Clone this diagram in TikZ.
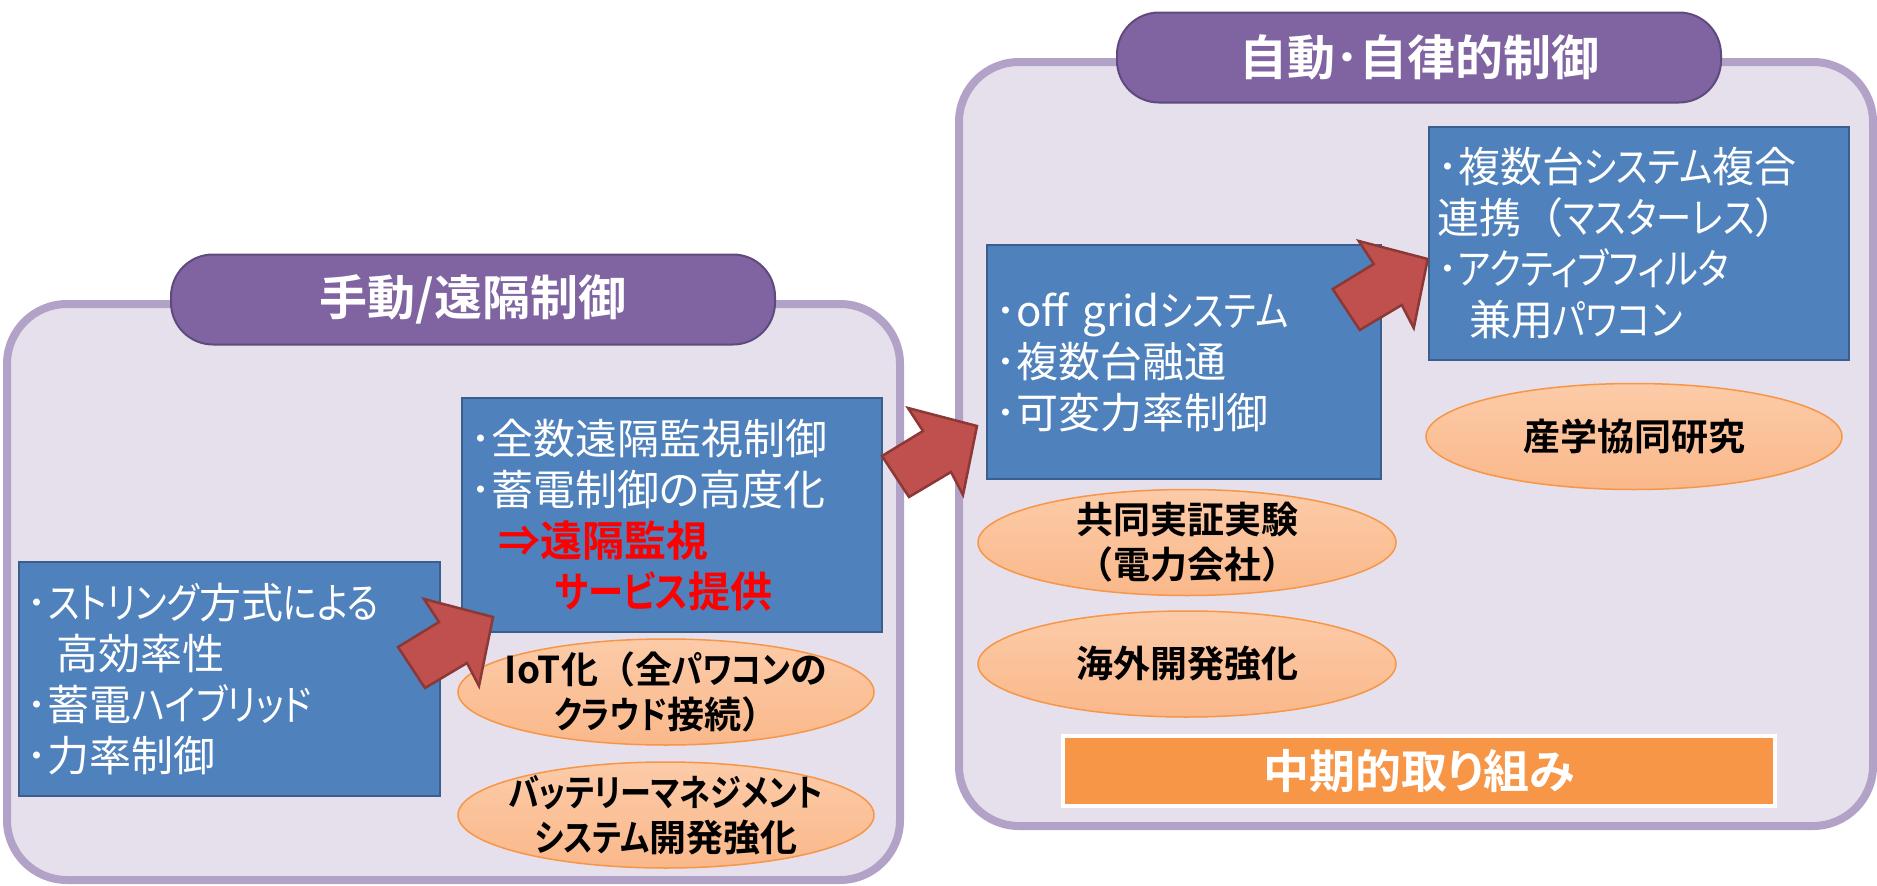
\documentclass[tikz,border=0pt]{standalone}
\usepackage{fontspec}
\usetikzlibrary{shapes.geometric,shadings}
\newfontfamily\jp[RawFeature=+palt,BoldFont={Noto Sans CJK JP Bold}]{Noto Sans CJK JP}
\newfontfamily\jpk[RawFeature=+palt,FakeStretch=0.84,BoldFont={Noto Sans CJK JP Bold}]{Noto Sans CJK JP}
\newfontfamily\jpf[BoldFont={Noto Sans CJK JP Bold}]{Noto Sans CJK JP}
\newcommand\kn[1]{{\jpk #1}}
\newcommand\fwl{{\jpf （}}
\newcommand\fwr{{\jpf ）}}
\definecolor{panelfill}{HTML}{E5E0EC}
\definecolor{panelline}{HTML}{B3A2C7}
\definecolor{tabfill}{HTML}{8064A2}
\definecolor{tabline}{HTML}{5F4A7E}
\definecolor{boxfill}{HTML}{4F81BD}
\definecolor{boxline}{HTML}{3A5F8C}
\definecolor{ovaltop}{HTML}{FCCBA8}
\definecolor{ovalbot}{HTML}{FAB88A}
\definecolor{ovalline}{HTML}{F79646}
\definecolor{arrowfill}{HTML}{C0504D}
\definecolor{arrowline}{HTML}{8C3836}
\definecolor{barfill}{HTML}{F79646}
\tikzset{
  panel/.style={draw=panelline, fill=panelfill, line width=8pt, rounded corners=60pt, inner sep=0pt},
  tab/.style={draw=tabline, fill=tabfill, line width=2pt, rounded corners=42pt,
    minimum width=604pt, minimum height=90pt, inner sep=0pt, text=white,
    font={\jp\bfseries\fontsize{48pt}{52pt}\selectfont}},
  bluebox/.style={draw=boxline, fill=boxfill, line width=2.5pt, inner xsep=8pt, inner ysep=0pt,
    align=left, text=white, font={\jp\fontsize{42pt}{51pt}\selectfont}},
  oval/.style={ellipse, draw=ovalline, line width=1.5pt, top color=ovaltop, bottom color=ovalbot,
    minimum width=416pt, minimum height=106pt, inner sep=0pt},
  ovaltext/.style={align=center, text=black, inner sep=0pt,
    font={\jp\bfseries\fontsize{37pt}{45pt}\selectfont}},
  bar/.style={draw=white, fill=barfill, line width=4pt, minimum width=712pt, minimum height=70pt,
    inner sep=0pt, text=white, font={\jp\bfseries\fontsize{46pt}{50pt}\selectfont}},
  blockarrow/.pic={\draw[draw=arrowline, fill=arrowfill, line width=2.5pt, line join=miter]
    (-95,30) -- (-68,71) -- (-26,46) -- (-14,69) -- (0,0) -- (-69,-18) -- (-54,5) -- cycle;}
}
\begin{document}
\begin{tikzpicture}[x=1pt,y=-1pt]
\useasboundingbox (0,0) rectangle (1877,886);
% panels
\node[panel, minimum width=893pt, minimum height=576pt] (leftpanel) at (453.5,592) {};
\node[panel, minimum width=914pt, minimum height=764pt] (rightpanel) at (1416,444) {};
% tabs
\node[tab] (lefttab) at (473,299.5) {手動/遠隔制御};
\node[tab] (righttab) at (1419,57.5) {自動･自律的制御};
% blue boxes
\node[bluebox, text width=405pt, minimum height=234pt] (boxA) at (229.5,679)
  {･\kn{ストリング}方式\kn{による}\\\hspace*{29pt}高効率性\\･蓄電\kn{ハイブリッド}\\･力率制御};
\node[bluebox, text width=404pt, minimum height=234pt] (boxB) at (672,515)
  {･全数遠隔監視制御\\･蓄電制御の高度化\\\hspace*{28pt}{\color{red}\bfseries ⇒遠隔監視}\\\hspace*{85pt}{\color{red}\bfseries \kn{サービス}提供}};
\node[bluebox, text width=378pt, minimum height=234pt] (boxC) at (1184,362)
  {･off grid\kn{システム}\\･複数台融通\\･可変力率制御};
\node[bluebox, text width=404pt, minimum height=233pt] (boxD) at (1639,243.5)
  {･複数台\kn{システム}複合\\連携\fwl\kn{マスターレス}\fwr\\･\kn{アクティブフィルタ}\\\hspace*{32pt}兼用\kn{パワコン}};
% ovals
\node[oval, label={[ovaltext]center:{IoT化\fwl 全\kn{パワコン}の\\\kn{クラウド}接続\fwr}}] (ovalA) at (666,692) {};
\node[oval, label={[ovaltext]center:{\kn{バッテリーマネジメント}\\\kn{システム}開発強化}}] (ovalB) at (666,815) {};
\node[oval, label={[ovaltext]center:{産学協同研究}}] (ovalC) at (1634,436.5) {};
\node[oval, minimum width=418pt, label={[ovaltext]center:{共同実証実験\\\fwl 電力会社\fwr}}] (ovalD) at (1187,542.5) {};
\node[oval, minimum width=418pt, label={[ovaltext]center:{海外開発強化}}] (ovalE) at (1187,664) {};
% bar
\node[bar] (midterm) at (1419,771) {中期的取り組み};
% block arrows
\coordinate (tipA) at (493,617);
\coordinate (tipB) at (977,426);
\coordinate (tipC) at (boxD.west |- 0,259);
\pic at (tipA) {blockarrow};
\pic at (tipB) {blockarrow};
\pic at (tipC) {blockarrow};
\end{tikzpicture}
\end{document}
